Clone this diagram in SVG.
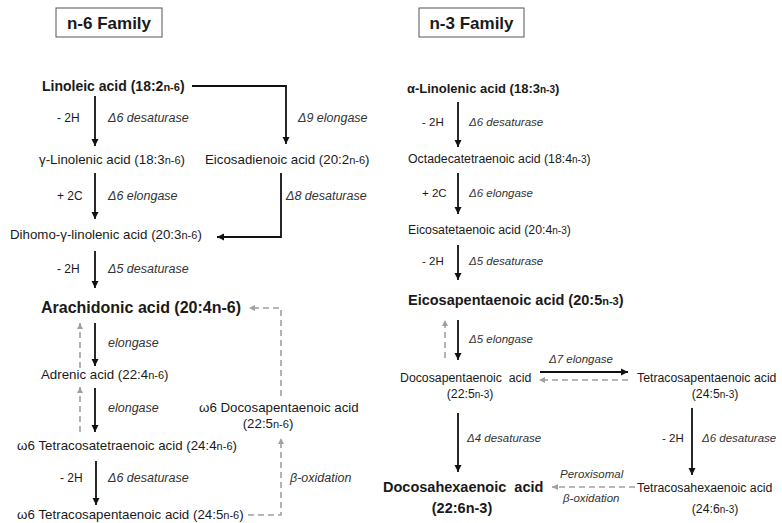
<svg xmlns="http://www.w3.org/2000/svg" width="782" height="523" viewBox="0 0 782 523">
<defs>
<style>
text{font-family:"Liberation Sans",Arial,sans-serif;fill:#1a1a1a;font-size:13.3px}
.b{font-weight:bold}
.h{font-size:17px;font-weight:bold}
.big{font-size:16px;font-weight:bold}
.lin{font-size:14px}
.alp{font-size:13px}
.mid{font-size:14.5px}
.e{font-size:12px}
.i{font-size:12.5px;font-style:italic;fill:#333}
.r{font-size:12.3px}
.re{font-size:11.5px}
.ri{font-size:11.5px;font-style:italic;fill:#333}
.s{font-size:11px}
.s3{font-size:10px}
.c{text-anchor:middle}
.ln{fill:none;stroke:#111;stroke-width:1.8}
.dl{fill:none;stroke:#a0a0a0;stroke-width:1.6;stroke-dasharray:6,4}
</style>
<marker id="ab" markerUnits="userSpaceOnUse" markerWidth="8" markerHeight="8" refX="7" refY="4" orient="auto"><path d="M0,0.5 L7,4 L0,7.5 z" fill="#111"/></marker>
<marker id="ag" markerUnits="userSpaceOnUse" markerWidth="7" markerHeight="7" refX="6" refY="3.5" orient="auto"><path d="M0,0.5 L6,3.5 L0,6.5 z" fill="#a0a0a0"/></marker>
</defs>
<rect width="782" height="523" fill="#fff"/>

<g id="title-n6"><rect x="56" y="8" width="106" height="29" fill="#fff" stroke="#555" stroke-width="1"/><text class="h c" x="109" y="29">n-6 Family</text></g>
<g id="title-n3"><rect x="419" y="8" width="105" height="29" fill="#fff" stroke="#555" stroke-width="1"/><text class="h c" x="471.5" y="29">n-3 Family</text></g>

<g id="connectors">
<path class="ln" marker-end="url(#ab)" d="M95,96 V146"/>
<path class="ln" marker-end="url(#ab)" d="M192,86 H286 V144"/>
<path class="ln" marker-end="url(#ab)" d="M95,173 V219"/>
<path class="ln" marker-end="url(#ab)" d="M281,173 V237 H217"/>
<path class="ln" marker-end="url(#ab)" d="M95,251 V288"/>
<path class="ln" marker-end="url(#ab)" d="M95,323 V366"/>
<path class="ln" marker-end="url(#ab)" d="M95,388 V432"/>
<path class="ln" marker-end="url(#ab)" d="M96,461 V505"/>
<path class="dl" marker-end="url(#ag)" d="M80,368 V323"/>
<path class="dl" marker-end="url(#ag)" d="M80,432 V387"/>
<path class="dl" marker-end="url(#ag)" d="M248,515 H281 V438"/>
<path class="dl" marker-end="url(#ag)" d="M281,396 V308 H249"/>
<path class="ln" marker-end="url(#ab)" d="M458,102 V147"/>
<path class="ln" marker-end="url(#ab)" d="M458,173 V214"/>
<path class="ln" marker-end="url(#ab)" d="M458,245 V280"/>
<path class="ln" marker-end="url(#ab)" d="M458,320 V360"/>
<path class="ln" marker-end="url(#ab)" d="M540,372 H628"/>
<path class="ln" marker-end="url(#ab)" d="M458,413 V472"/>
<path class="ln" marker-end="url(#ab)" d="M692,408 V475"/>
<path class="dl" marker-end="url(#ag)" d="M445,358 V320"/>
<path class="dl" marker-end="url(#ag)" d="M628,380 H539"/>
<path class="dl" marker-end="url(#ag)" d="M635,487 H552"/>
</g>

<g id="edge-labels">
<text class="e" x="57" y="122">- 2H</text><text class="i" x="108" y="122">Δ6 desaturase</text>
<text class="i" x="298" y="122">Δ9 elongase</text>
<text class="e" x="57" y="200">+ 2C</text><text class="i" x="108" y="200">Δ6 elongase</text>
<text class="i" x="286" y="200">Δ8 desaturase</text>
<text class="e" x="57" y="273">- 2H</text><text class="i" x="108" y="273">Δ5 desaturase</text>
<text class="i" x="108" y="347">elongase</text>
<text class="i" x="108" y="412">elongase</text>
<text class="e" x="60" y="482">- 2H</text><text class="i" x="108" y="482">Δ6 desaturase</text>
<text class="i" x="290" y="482">β-oxidation</text>
<text class="re" x="422" y="126">- 2H</text><text class="ri" x="469" y="126">Δ6 desaturase</text>
<text class="re" x="422" y="197">+ 2C</text><text class="ri" x="469" y="197">Δ6 elongase</text>
<text class="re" x="422" y="265">- 2H</text><text class="ri" x="469" y="265">Δ5 desaturase</text>
<text class="ri" x="469" y="343">Δ5 elongase</text>
<text class="ri" x="549" y="363">Δ7 elongase</text>
<text class="ri" x="467" y="442">Δ4 desaturase</text>
<text class="re" x="662" y="442">- 2H</text><text class="ri" x="702" y="442">Δ6 desaturase</text>
<text class="ri" x="560" y="478">Peroxisomal</text>
<text class="ri" x="563" y="502">β-oxidation</text>
</g>

<g id="linoleic"><text class="b lin" x="42" y="91">Linoleic acid (18:2<tspan class="s">n-6</tspan>)</text></g>
<g id="gamma-linolenic"><text x="39" y="164">γ-Linolenic acid (18:3<tspan class="s">n-6</tspan>)</text></g>
<g id="eicosadienoic"><text x="205" y="164">Eicosadienoic acid (20:2<tspan class="s">n-6</tspan>)</text></g>
<g id="dihomo"><text x="10" y="239">Dihomo-γ-linolenic acid (20:3<tspan class="s">n-6</tspan>)</text></g>
<g id="arachidonic"><text class="big" x="41" y="313">Arachidonic acid (20:4n-6)</text></g>
<g id="adrenic"><text x="41" y="379">Adrenic acid (22:4<tspan class="s">n-6</tspan>)</text></g>
<g id="dpa-n6"><text x="199" y="412">ω6 Docosapentaenoic acid</text><text class="c" x="268" y="428">(22:5<tspan class="s">n-6</tspan>)</text></g>
<g id="tetracosatetraenoic"><text x="17" y="450">ω6 Tetracosatetraenoic acid (24:4<tspan class="s">n-6</tspan>)</text></g>
<g id="tetracosapentaenoic-n6"><text x="17" y="519">ω6 Tetracosapentaenoic acid (24:5<tspan class="s">n-6</tspan>)</text></g>

<g id="alpha-linolenic"><text class="b alp" x="407" y="93">α-Linolenic acid (18:3<tspan class="s3">n-3</tspan>)</text></g>
<g id="octadecatetraenoic"><text class="r" x="408" y="163">Octadecatetraenoic acid (18:4<tspan class="s3">n-3</tspan>)</text></g>
<g id="eicosatetaenoic"><text class="r" x="408" y="234">Eicosatetaenoic acid (20:4<tspan class="s3">n-3</tspan>)</text></g>
<g id="epa"><text class="b mid" x="408" y="305">Eicosapentaenoic acid (20:5<tspan class="s">n-3</tspan>)</text></g>
<g id="dpa-n3"><text class="r" x="400" y="382" xml:space="preserve">Docosapentaenoic  acid</text><text class="r c" x="470" y="398">(22:5<tspan class="s3">n-3</tspan>)</text></g>
<g id="tetracosapentaenoic-n3"><text class="r" x="637" y="382">Tetracosapentaenoic acid</text><text class="r c" x="715" y="398">(24:5<tspan class="s3">n-3</tspan>)</text></g>
<g id="dha"><text class="b mid" x="383" y="492" xml:space="preserve">Docosahexaenoic  acid</text><text class="b c mid" x="462" y="513">(22:6n-3)</text></g>
<g id="tetracosahexaenoic"><text class="r" x="637" y="492">Tetracosahexaenoic acid</text><text class="r c" x="715" y="513">(24:6<tspan class="s3">n-3</tspan>)</text></g>
</svg>
